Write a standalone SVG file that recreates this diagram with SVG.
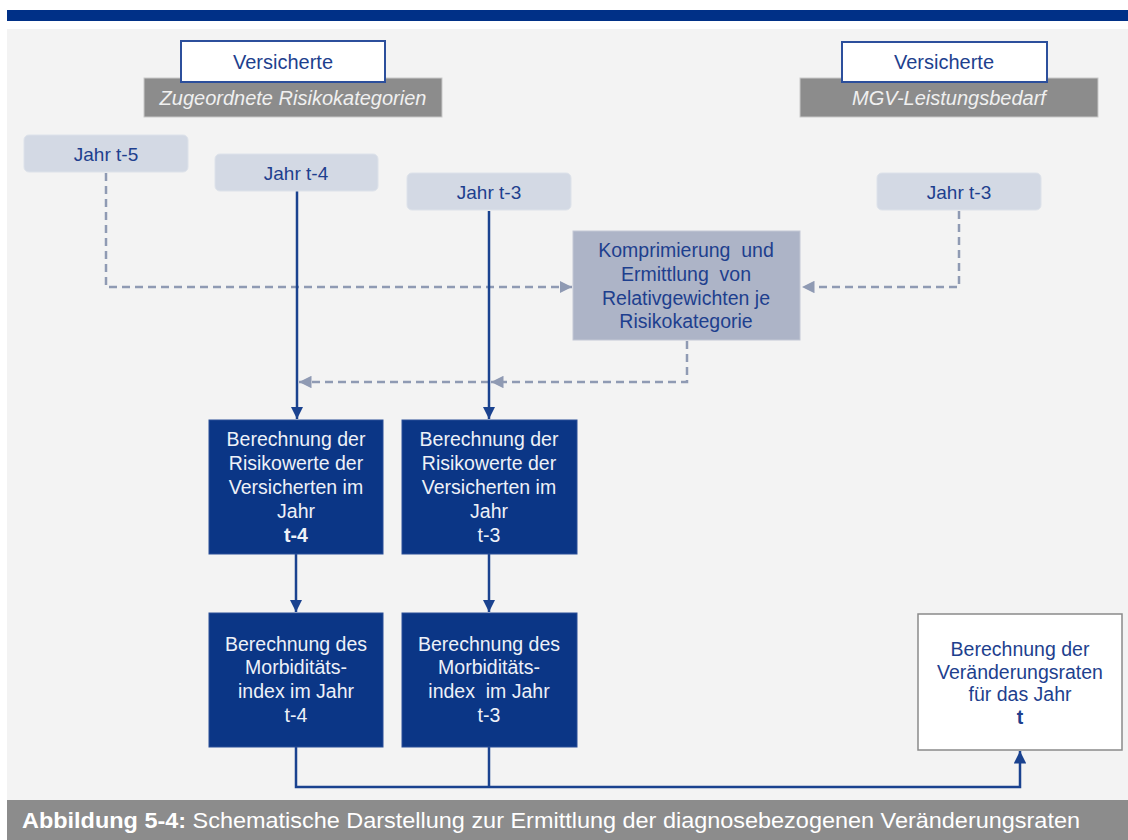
<svg xmlns="http://www.w3.org/2000/svg" width="1128" height="840" viewBox="0 0 1128 840">
<defs>
<style>
text{font-family:"Liberation Sans",Arial,sans-serif;text-anchor:middle}
.bt{fill:#1e3f8e;font-size:19.5px}
.wt{fill:#eef1f8;font-size:19.5px}
.pre{white-space:pre}
.jahr{fill:#d3d9e4;stroke:#dde2ea;stroke-width:1}
.jt{fill:#1e3f8e;font-size:19px}
.navy{fill:#0b3686;stroke:#2a4f98;stroke-width:1}
.sol{fill:none;stroke:#1a428f;stroke-width:2.5}
.dash{fill:none;stroke:#8f9ab3;stroke-width:2.5;stroke-dasharray:8 5}
.lab{fill:#8c8c8c;stroke:#c9c9c9;stroke-width:1}
.lt{fill:#f0f0f0;font-size:20px;font-style:italic}
.vers{fill:#ffffff;stroke:#2c4f9c;stroke-width:2}
</style>
<marker id="as" viewBox="0 0 10 10" refX="10" refY="5" markerWidth="5" markerHeight="5" orient="auto" markerUnits="strokeWidth">
<path d="M0,0 L10,5 L0,10 z" fill="#1a428f"/>
</marker>
<marker id="ad" viewBox="0 0 10 10" refX="10" refY="5" markerWidth="5" markerHeight="5" orient="auto" markerUnits="strokeWidth">
<path d="M0,0 L10,5 L0,10 z" fill="#8f9ab3"/>
</marker>
</defs>
<rect x="0" y="0" width="1128" height="840" fill="#ffffff"/>
<rect x="7" y="10" width="1121" height="11" fill="#003087"/>
<rect x="7" y="29" width="1121" height="771" fill="#f3f3f3"/>

<g id="label-left">
<rect class="lab" x="144" y="78" width="298" height="39"/>
<text class="lt" x="293" y="105">Zugeordnete Risikokategorien</text>
<rect class="vers" x="181" y="41" width="204" height="41"/>
<text class="bt" x="283" y="69" style="font-size:20px">Versicherte</text>
</g>
<g id="label-right">
<rect class="lab" x="800" y="78" width="298" height="39"/>
<text class="lt" x="949" y="105">MGV-Leistungsbedarf</text>
<rect class="vers" x="842" y="42" width="205" height="40"/>
<text class="bt" x="944" y="69" style="font-size:20px">Versicherte</text>
</g>

<g id="connectors">
<path class="dash" d="M106,173 V287 H572" marker-end="url(#ad)"/>
<path class="dash" d="M959,211 V287 H802" marker-end="url(#ad)"/>
<path class="dash" d="M687,341 V382 H491" marker-end="url(#ad)"/>
<path class="dash" d="M489,382 H299" marker-end="url(#ad)"/>
<path class="sol" d="M297,191 V419" marker-end="url(#as)"/>
<path class="sol" d="M489,211 V419" marker-end="url(#as)"/>
<path class="sol" d="M296,554 V612" marker-end="url(#as)"/>
<path class="sol" d="M489,554 V612" marker-end="url(#as)"/>
<path class="sol" d="M296,747 V787 H1020 V751" marker-end="url(#as)"/>
<path class="sol" d="M489,747 V787"/>
</g>

<g id="jahr-t5">
<rect class="jahr" x="24" y="135" width="164" height="37" rx="5"/>
<text class="jt" x="106" y="161">Jahr t-5</text>
</g>
<g id="jahr-t4">
<rect class="jahr" x="215" y="154" width="163" height="37" rx="5"/>
<text class="jt" x="296" y="180">Jahr t-4</text>
</g>
<g id="jahr-t3">
<rect class="jahr" x="407" y="173" width="164" height="37" rx="5"/>
<text class="jt" x="489" y="199">Jahr t-3</text>
</g>
<g id="jahr-t3-right">
<rect class="jahr" x="877" y="173" width="164" height="37" rx="5"/>
<text class="jt" x="959" y="199">Jahr t-3</text>
</g>

<g id="komprimierung">
<rect x="573" y="231" width="227" height="109" fill="#adb4c7" stroke="#c3c8d5" stroke-width="1"/>
<text class="bt pre" x="686" y="257">Komprimierung  und</text>
<text class="bt pre" x="686" y="281">Ermittlung  von</text>
<text class="bt" x="686" y="305">Relativgewichten je</text>
<text class="bt" x="686" y="328">Risikokategorie</text>
</g>

<g id="risiko-t4">
<rect class="navy" x="209" y="420" width="174" height="134"/>
<text class="wt" x="296" y="446">Berechnung der</text>
<text class="wt" x="296" y="470">Risikowerte der</text>
<text class="wt" x="296" y="494">Versicherten im</text>
<text class="wt" x="296" y="518">Jahr</text>
<text class="wt" x="296" y="542" font-weight="bold">t-4</text>
</g>
<g id="risiko-t3">
<rect class="navy" x="402" y="420" width="175" height="134"/>
<text class="wt" x="489" y="446">Berechnung der</text>
<text class="wt" x="489" y="470">Risikowerte der</text>
<text class="wt" x="489" y="494">Versicherten im</text>
<text class="wt" x="489" y="518">Jahr</text>
<text class="wt" x="489" y="542">t-3</text>
</g>

<g id="morb-t4">
<rect class="navy" x="209" y="613" width="174" height="134"/>
<text class="wt" x="296" y="651">Berechnung des</text>
<text class="wt" x="296" y="674">Morbiditäts-</text>
<text class="wt" x="296" y="698">index im Jahr</text>
<text class="wt" x="296" y="722">t-4</text>
</g>
<g id="morb-t3">
<rect class="navy" x="402" y="613" width="175" height="134"/>
<text class="wt" x="489" y="651">Berechnung des</text>
<text class="wt" x="489" y="674">Morbiditäts-</text>
<text class="wt pre" x="489" y="698">index  im Jahr</text>
<text class="wt" x="489" y="722">t-3</text>
</g>

<g id="veraenderung">
<rect x="918" y="614" width="204" height="136" fill="#ffffff" stroke="#8a8a8a" stroke-width="1.5"/>
<text class="bt" x="1020" y="656">Berechnung der</text>
<text class="bt" x="1020" y="679">Veränderungsraten</text>
<text class="bt" x="1020" y="701">für das Jahr</text>
<text class="bt" x="1020" y="724" font-weight="bold">t</text>
</g>

<g id="caption">
<rect x="7" y="800" width="1121" height="40" fill="#8c8c8c"/>
<text x="22" y="828" style="text-anchor:start;font-size:22px;fill:#ffffff" textLength="1058" lengthAdjust="spacingAndGlyphs"><tspan font-weight="bold">Abbildung 5-4:</tspan> Schematische Darstellung zur Ermittlung der diagnosebezogenen Veränderungsraten</text>
</g>
</svg>
